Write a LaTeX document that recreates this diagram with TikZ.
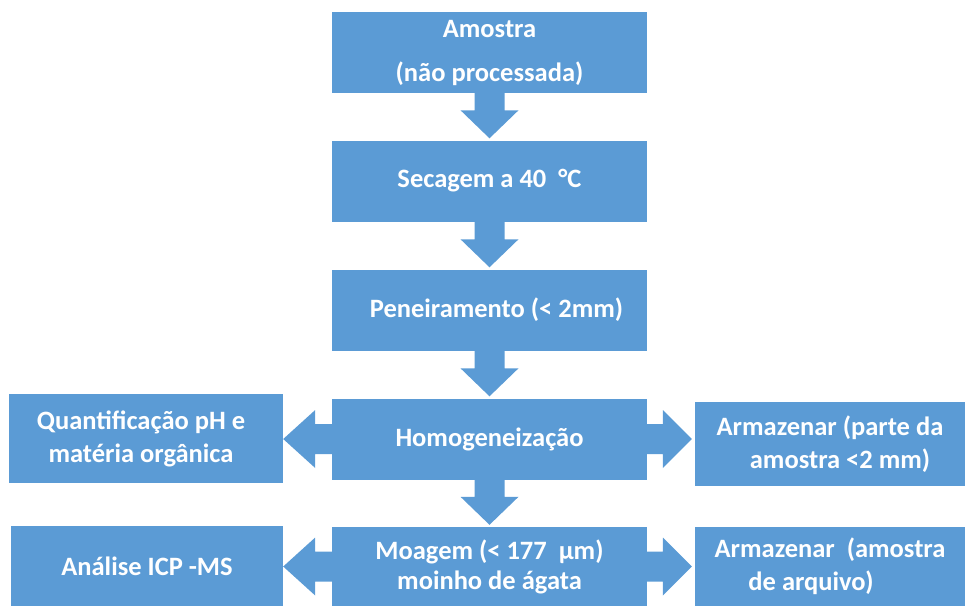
\documentclass[tikz,border=0pt]{standalone}
\usepackage{fontspec}
\setmainfont{Carlito}
\usepackage{xcolor}
\usepackage{tikz}
\usetikzlibrary{calc}
\definecolor{flowBlue}{HTML}{5B9BD5}

% block arrows between two named boxes
\newcommand{\flowdown}[2]{%
  \fill[flowBlue] ($(#1.south)+(-15,0)$) -- ($(#1.south)+(15,0)$)
    -- ($(#2.north)+(15,-30)$) -- ($(#2.north)+(29,-30)$)
    -- ($(#2.north)+(0,-2)$) -- ($(#2.north)+(-29,-30)$)
    -- ($(#2.north)+(-15,-30)$) -- cycle;}
\newcommand{\flowleft}[2]{%
  \fill[flowBlue] ($(#1.west)+(0,-15)$) -- ($(#1.west -| #2.east)+(32,-15)$)
    -- ($(#1.west -| #2.east)+(32,-29)$) -- (#1.west -| #2.east)
    -- ($(#1.west -| #2.east)+(32,29)$) -- ($(#1.west -| #2.east)+(32,15)$)
    -- ($(#1.west)+(0,15)$) -- cycle;}
\newcommand{\flowright}[2]{%
  \fill[flowBlue] ($(#1.east)+(0,-15)$) -- ($(#1.east -| #2.west)+(-32,-15)$)
    -- ($(#1.east -| #2.west)+(-32,-29)$) -- ($(#1.east -| #2.west)+(-3,0)$)
    -- ($(#1.east -| #2.west)+(-32,29)$) -- ($(#1.east -| #2.west)+(-32,15)$)
    -- ($(#1.east)+(0,15)$) -- cycle;}

\begin{document}
\begin{tikzpicture}[x=1pt,y=-1pt,
    box/.style={fill=flowBlue, text=white, align=center, inner sep=2pt,
      font=\bfseries\fontsize{26.5}{33}\selectfont},
    stage/.style={box, minimum width=315pt, minimum height=81pt},
    side/.style={box, minimum width=272pt, minimum height=82pt}]
    \useasboundingbox (0,0) rectangle (965,606);

    % Main column
    \node[stage] at (489.5,52.5) (sample) {Amostra\\[11pt](não processada)};
    \node[stage] at (489.5,181) (dry) {Secagem a 40\ \ °C};
    \node[stage] at (489.5,310) (sieve) {\hspace*{14pt}Peneiramento (< 2mm)};
    \node[stage] at (489.5,439) (homog) {Homogeneização};
    \node[stage, minimum height=79pt] at (489.5,566.5) (grind) {Moagem (< 177\ \ µm)\\[-3pt]moinho de ágata};

    % Side boxes
    \node[side, minimum height=89pt, minimum width=274pt] at (146,438.5) (quant) {Quantificação pH e\hspace*{10pt}\\matéria orgânica\hspace*{10pt}};
    \node[side, minimum height=84pt, minimum width=270pt] at (830,444) (keep) {Armazenar (parte da\\\hspace*{20pt}amostra <2 mm)};
    \node[side, minimum height=80pt] at (147,566) (icp) {Análise ICP -MS};
    \node[side, minimum height=79pt, minimum width=270pt] at (830,566.5) (archive) {Armazenar\ \ (amostra\\de arquivo)\hspace*{38pt}};

    % Arrows
    \flowdown{sample}{dry}
    \flowdown{dry}{sieve}
    \flowdown{sieve}{homog}
    \flowdown{homog}{grind}
    \flowleft{homog}{quant}
    \flowright{homog}{keep}
    \flowleft{grind}{icp}
    \flowright{grind}{archive}
\end{tikzpicture}
\end{document}
